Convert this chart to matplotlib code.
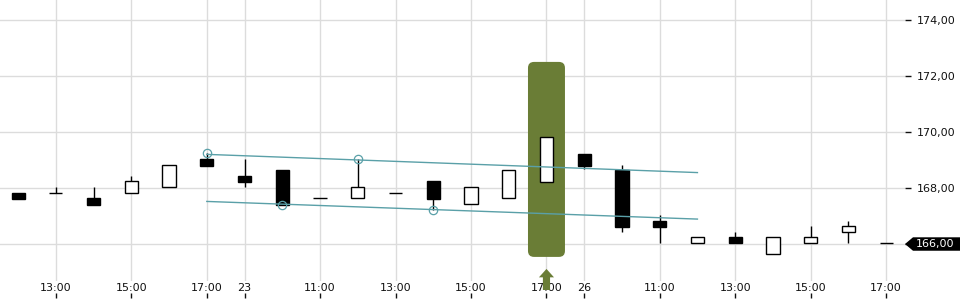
import matplotlib
matplotlib.use('Agg')
import matplotlib.pyplot as plt
from matplotlib.patches import FancyBboxPatch, FancyArrow, Polygon
import matplotlib.transforms as mtransforms
import numpy as np

# OHLC values, one hourly candle per slot
opens = [167.83, 167.81, 167.64, 167.81, 168.03, 169.02, 168.43, 168.64,
         167.63, 167.63, 167.81, 168.24, 167.42, 167.63, 168.23, 169.21,
         168.64, 166.82, 166.02, 166.24, 165.63, 166.02, 166.42, 166.02]
closes = [167.61, 167.81, 167.39, 168.24, 168.81, 168.80, 168.23, 167.39,
          167.63, 168.03, 167.81, 167.62, 168.03, 168.63, 169.81, 168.80,
          166.62, 166.62, 166.24, 166.02, 166.24, 166.24, 166.63, 166.02]
highs = [167.83, 168.05, 168.04, 168.43, 168.81, 169.24, 169.04, 168.64,
         167.63, 169.02, 167.81, 168.24, 168.03, 168.63, 169.81, 169.21,
         168.82, 167.04, 166.24, 166.43, 166.24, 166.64, 166.82, 166.02]
lows = [167.61, 167.81, 167.39, 167.81, 168.03, 168.80, 168.05, 167.39,
        167.63, 167.63, 167.81, 167.21, 167.42, 167.63, 168.23, 168.67,
        166.44, 166.02, 166.02, 166.02, 165.63, 166.02, 166.02, 166.02]

# x tick labels (slot index -> label)
tick_idx = [1, 3, 5, 6, 8, 10, 12, 14, 15, 17, 19, 21, 23]
tick_labels = ['13:00', '15:00', '17:00', '23', '11:00', '13:00', '15:00',
               '17:00', '26', '11:00', '13:00', '15:00', '17:00']

y_ticks = [166, 168, 170, 172, 174]
last_price = 166.00

# trend channel (start slot, end slot, values)
chan_x = [5, 18]
chan_upper = [169.20, 168.55]
chan_lower = [167.52, 166.89]
touch_x = [5, 9, 7, 11]
touch_y = [169.24, 169.02, 167.39, 167.21]

highlight_idx = 14
highlight_lo, highlight_hi = 165.54, 172.5

TEAL = '#5aa0a8'
GREEN = '#6a7d36'
GRID = '#dcdcdc'

fig = plt.figure(figsize=(9.6, 3.0), dpi=100)
ax = fig.add_axes([0, 1 - 281 / 300, 905 / 960, 281 / 300])
ax.set_xlim(-0.48, 23.5)
ax.set_ylim(164.68, 174.71)

x = np.arange(len(opens))
opens_a = np.array(opens)
closes_a = np.array(closes)
up = closes_a >= opens_a
w = 0.35

# highlight box behind the candle
hb = FancyBboxPatch((highlight_idx - 0.49, highlight_lo), 0.98, highlight_hi - highlight_lo,
                    boxstyle='round,pad=0,rounding_size=0.16', mutation_aspect=1.35,
                    facecolor=GREEN, edgecolor='none', zorder=1.6)
ax.add_patch(hb)

# wicks
ax.vlines(x, lows, highs, color='black', linewidth=1, zorder=3)
# bodies
bottoms = np.minimum(opens_a, closes_a)
heights = np.abs(closes_a - opens_a)
ax.bar(x, heights, width=w, bottom=bottoms,
       color=['white' if u else 'black' for u in up],
       edgecolor='black', linewidth=1, zorder=4)

# channel
ax.plot(chan_x, chan_upper, color=TEAL, linewidth=1, zorder=5)
ax.plot(chan_x, chan_lower, color=TEAL, linewidth=1, zorder=5)
ax.plot(touch_x, touch_y, 'o', markersize=6, markerfacecolor='none',
        markeredgecolor=TEAL, markeredgewidth=0.9, zorder=5)

# arrow under highlighted candle
trans = mtransforms.blended_transform_factory(ax.transData, ax.transAxes)
arr = FancyArrow(highlight_idx, -0.032, 0, 0.075, width=0.19, head_width=0.4,
                 head_length=0.03, length_includes_head=True, transform=trans,
                 facecolor=GREEN, edgecolor='none', clip_on=False, zorder=1)
ax.add_patch(arr)

# grid / axes
ax.set_xticks(tick_idx)
ax.set_xticklabels(tick_labels)
ax.set_yticks(y_ticks)
ax.set_yticklabels(['' if v == last_price else f'{v:.2f}'.replace('.', ',') for v in y_ticks])
ax.grid(True, color=GRID, linewidth=1, zorder=0)
ax.set_axisbelow(True)
for s in ax.spines.values():
    s.set_visible(False)
ax.yaxis.tick_right()
ax.tick_params(axis='y', direction='out', length=4.5, width=1, pad=4,
               labelsize=8, colors='#111111')
ax.tick_params(axis='x', length=0, pad=1.5, labelsize=8, colors='#111111')

# small x tick marks below the labels
sec = ax.secondary_xaxis(-12 / 281)
sec.set_xticks(tick_idx)
sec.set_xticklabels([])
sec.tick_params(axis='x', direction='out', length=3.5, width=1, colors='#111111')
sec.spines['bottom'].set_visible(False)

# current price tag
ytrans = mtransforms.blended_transform_factory(ax.transAxes, ax.transData)
x0 = 1.0
x1 = 913 / 905
x2 = 960 / 905
tag = Polygon([(x0, last_price), (x1, last_price + 0.24), (x2, last_price + 0.24),
               (x2, last_price - 0.24), (x1, last_price - 0.24)],
              closed=True, transform=ytrans, facecolor='black', edgecolor='none',
              clip_on=False, zorder=6)
ax.add_patch(tag)
ax.text(916 / 905, last_price, f'{last_price:.2f}'.replace('.', ','), transform=ytrans,
        color='white', fontsize=8, va='center', ha='left', zorder=7, clip_on=False)

fig.savefig('out.png', dpi=100, facecolor='white')
